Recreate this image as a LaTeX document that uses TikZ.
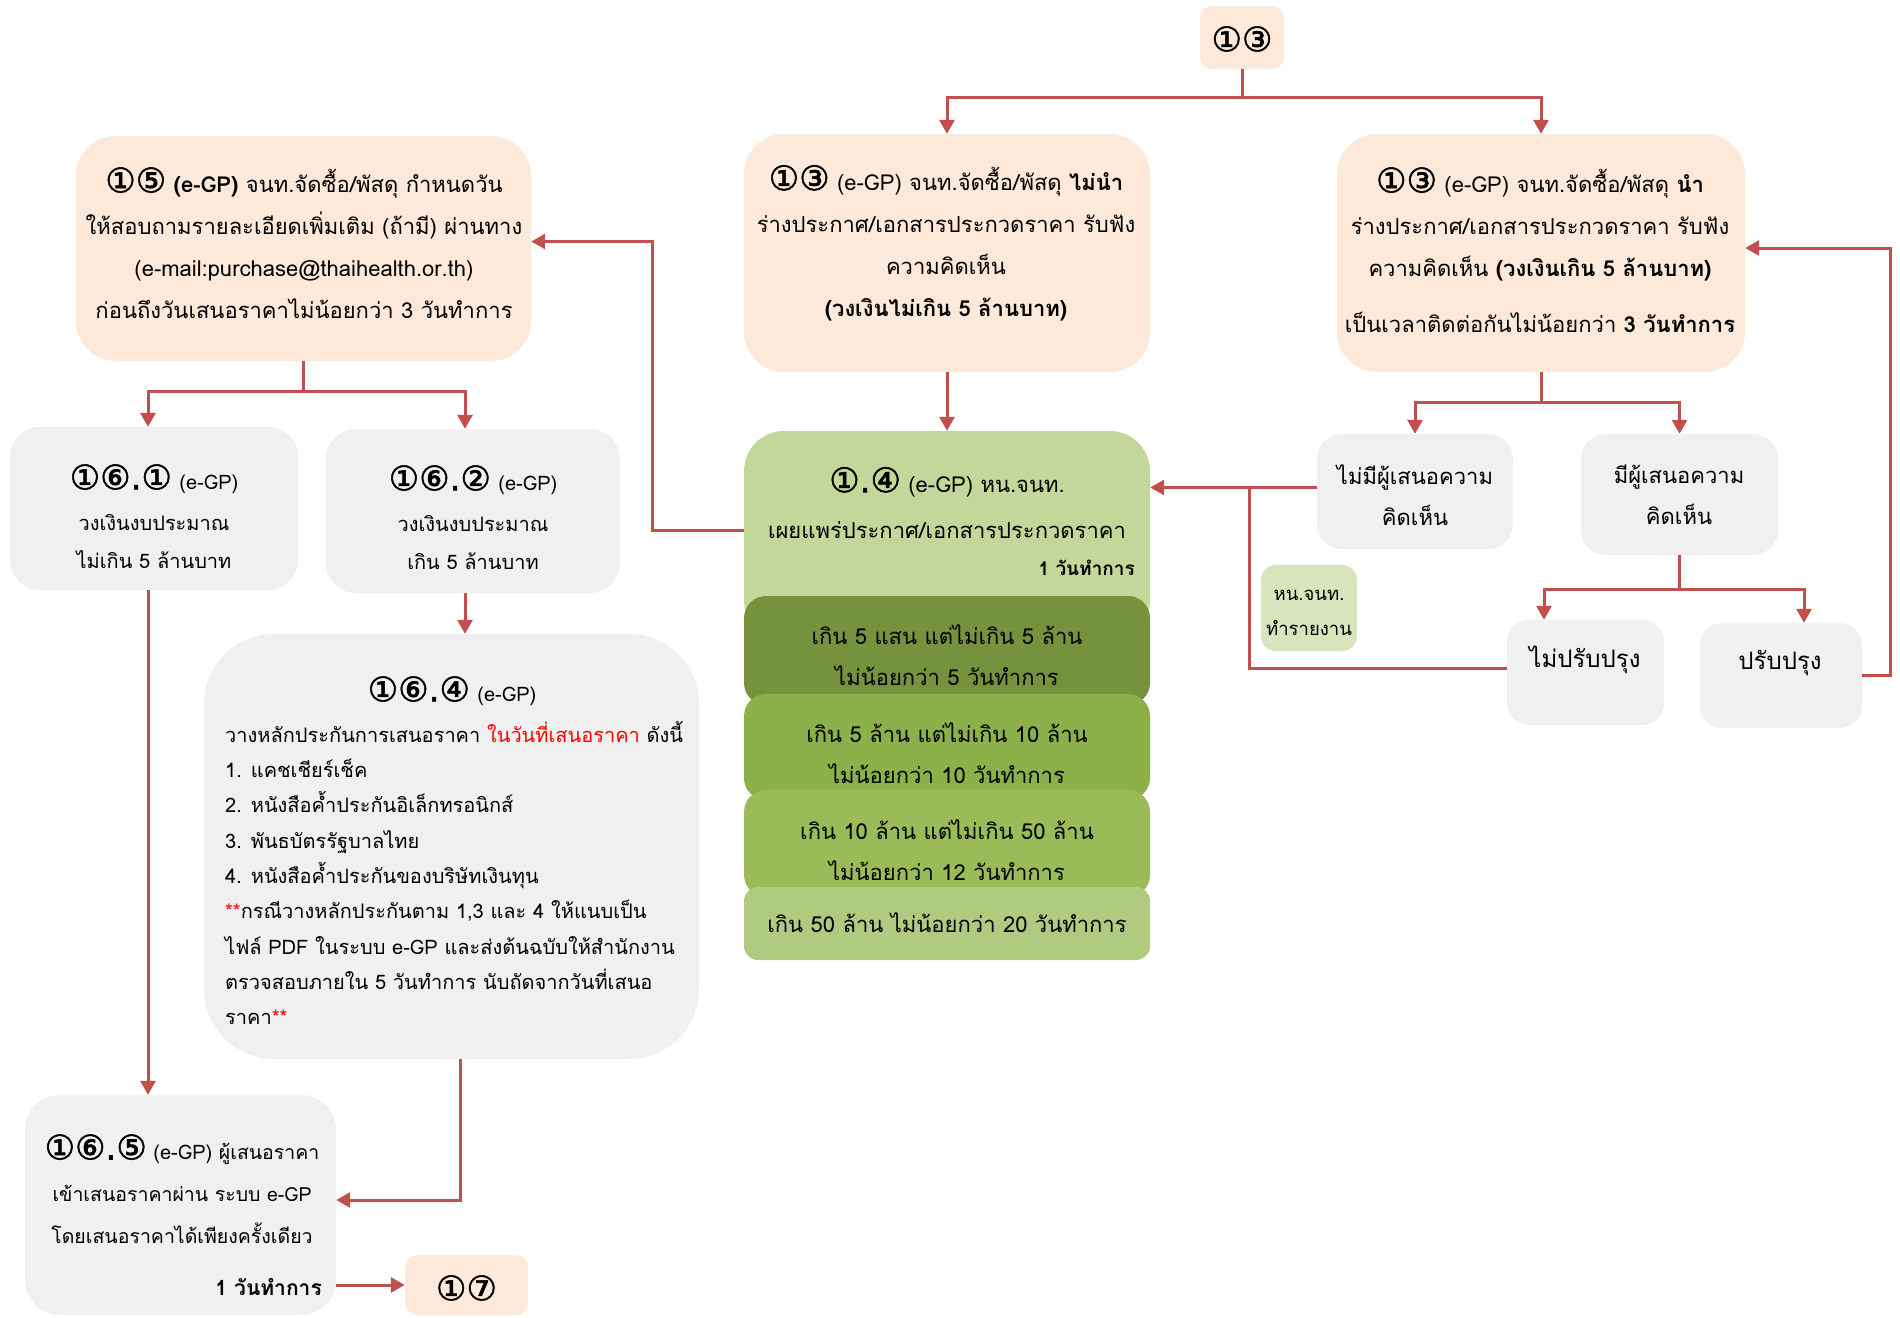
\documentclass[tikz,border=0pt]{standalone}
\usepackage{fontspec}
\setmainfont[Script=Thai]{Loma}
\newfontfamily\circfont[FakeBold=1.6]{DejaVu Sans}
\usetikzlibrary{arrows.meta}

\definecolor{flow}{HTML}{C0504D}
\definecolor{peach}{HTML}{FDE9D9}
\definecolor{greybox}{HTML}{F0F0F0}
\definecolor{leaf}{HTML}{C4D79B}
\definecolor{leafA}{HTML}{76923C}
\definecolor{leafB}{HTML}{8CB04A}
\definecolor{leafC}{HTML}{9BBB59}
\definecolor{leafD}{HTML}{B0CB7F}
\definecolor{notegreen}{HTML}{D8E4BC}
\definecolor{hilite}{HTML}{FF0000}

% circled step numbers
\newcommand\cn[1]{{\circfont\fontsize{34}{34}\selectfont #1}}
\newcommand\egp{{\fontsize{20}{20}\selectfont (e-GP)}}

\tikzset{
  panel/.style={rectangle, draw=none, inner sep=0pt, rounded corners=#1},
  panel/.default=40pt,
  txt/.style={inner sep=0pt, align=center, font=\fontsize{22}{42}\selectfont},
  link/.style={draw=flow, line width=3pt},
  arr/.style={link, -{Triangle[width=15pt,length=14pt]}},
}

\begin{document}
\begin{tikzpicture}[x=1pt,y=-1pt]
\useasboundingbox[fill=white] (0,0) rectangle (1900,1317);

% ---------- boxes ----------
\node[panel=12pt, fill=peach, minimum width=84pt, minimum height=63pt] (T) at (1242,37.5) {};
\node[panel, fill=peach, minimum width=455pt, minimum height=225pt] (A) at (303.5,248.5) {};
\node[panel, fill=peach, minimum width=406pt, minimum height=238pt] (B) at (947,253) {};
\node[panel, fill=peach, minimum width=408pt, minimum height=238pt] (C) at (1541,253) {};
\node[panel, fill=leaf, minimum width=406pt, minimum height=209pt] (D) at (947,535.5) {};
\node[panel=22pt, fill=leafA, minimum width=406pt, minimum height=109pt] (D1) at (947,650.5) {};
\node[panel=22pt, fill=leafB, minimum width=406pt, minimum height=106pt] (D2) at (947,747) {};
\node[panel=22pt, fill=leafC, minimum width=406pt, minimum height=107pt] (D3) at (947,843.5) {};
\node[panel=14pt, fill=leafD, minimum width=406pt, minimum height=73pt] (D4) at (947,923.5) {};
\node[panel=25pt, fill=greybox, minimum width=196pt, minimum height=115pt] (E) at (1415,491.5) {};
\node[panel=25pt, fill=greybox, minimum width=197pt, minimum height=121pt] (F) at (1679.5,494.5) {};
\node[panel=22pt, fill=greybox, minimum width=157pt, minimum height=105pt] (G) at (1585.5,672.5) {};
\node[panel=22pt, fill=greybox, minimum width=162pt, minimum height=105pt] (H) at (1781,675.5) {};
\node[panel=15pt, fill=notegreen, minimum width=96pt, minimum height=86pt] (S) at (1309,608) {};
\node[panel=30pt, fill=greybox, minimum width=288pt, minimum height=163pt] (I) at (154,508.5) {};
\node[panel=30pt, fill=greybox, minimum width=294pt, minimum height=164pt] (J) at (473,511) {};
\node[panel=70pt, fill=greybox, minimum width=495pt, minimum height=425pt] (K) at (451.5,846.5) {};
\node[panel=35pt, fill=greybox, minimum width=311pt, minimum height=220pt] (L) at (180.5,1205) {};
\node[panel=12pt, fill=peach, minimum width=123pt, minimum height=60pt] (M) at (466.5,1285) {};

% ---------- texts ----------
\node[txt] (T-text) at (1242,39) {\cn{①③}};

\node[txt] (A-text) at (304,243) {\cn{①⑤} \textbf{(e-GP)} จนท.จัดซื้อ/พัสดุ กำหนดวัน\\ให้สอบถามรายละเอียดเพิ่มเติม (ถ้ามี) ผ่านทาง\\(e-mail:purchase@thaihealth.or.th)\\ก่อนถึงวันเสนอราคาไม่น้อยกว่า 3 วันทำการ};

\node[txt] (B-text) at (946,243) {\cn{①③} (e-GP) จนท.จัดซื้อ/พัสดุ \textbf{ไม่นำ}\\ร่างประกาศ/เอกสารประกวดราคา รับฟัง\\ความคิดเห็น\\\textbf{(วงเงินไม่เกิน 5 ล้านบาท)}};

\node[txt] (C-text) at (1540,250) {\cn{①③} (e-GP) จนท.จัดซื้อ/พัสดุ \textbf{นำ}\\ร่างประกาศ/เอกสารประกวดราคา รับฟัง\\ความคิดเห็น \textbf{(วงเงินเกิน 5 ล้านบาท)}\\[14pt]เป็นเวลาติดต่อกันไม่น้อยกว่า \textbf{3 วันทำการ}};

\node[txt] (D-head) at (947,482) {\cn{①.④} (e-GP) หน.จนท.};
\node[txt] (D-body) at (947,530) {เผยแพร่ประกาศ/เอกสารประกวดราคา};
\node[txt, anchor=east, font=\fontsize{19}{19}\selectfont] (D-days) at (1135,568) {\textbf{1 วันทำการ}};
\node[txt, font=\fontsize{22}{41}\selectfont] (D1-text) at (947,655) {เกิน 5 แสน แต่ไม่เกิน 5 ล้าน\\ไม่น้อยกว่า 5 วันทำการ};
\node[txt, font=\fontsize{22}{41}\selectfont] (D2-text) at (947,753) {เกิน 5 ล้าน แต่ไม่เกิน 10 ล้าน\\ไม่น้อยกว่า 10 วันทำการ};
\node[txt, font=\fontsize{22}{41}\selectfont] (D3-text) at (947,850) {เกิน 10 ล้าน แต่ไม่เกิน 50 ล้าน\\ไม่น้อยกว่า 12 วันทำการ};
\node[txt] (D4-text) at (947,923) {เกิน 50 ล้าน ไม่น้อยกว่า 20 วันทำการ};

\node[txt, font=\fontsize{22}{41}\selectfont] (E-text) at (1415,495) {ไม่มีผู้เสนอความ\\คิดเห็น};
\node[txt, font=\fontsize{22}{41}\selectfont] (F-text) at (1679,495) {มีผู้เสนอความ\\คิดเห็น};
\node[txt, font=\fontsize{24}{24}\selectfont] (G-text) at (1585,660) {ไม่ปรับปรุง};
\node[txt, font=\fontsize{24}{24}\selectfont] (H-text) at (1780,663) {ปรับปรุง};
\node[txt, font=\fontsize{18.5}{35}\selectfont] (S-text) at (1309,613) {หน.จนท.\\ทำรายงาน};

\node[txt] (I-head) at (154,479) {\cn{①⑥.①} \egp};
\node[txt, font=\fontsize{20}{38}\selectfont] (I-body) at (154,542) {วงเงินงบประมาณ\\ไม่เกิน 5 ล้านบาท};
\node[txt] (J-head) at (473,480) {\cn{①⑥.②} \egp};
\node[txt, font=\fontsize{20}{38}\selectfont] (J-body) at (473,543) {วงเงินงบประมาณ\\เกิน 5 ล้านบาท};

\node[txt] (K-head) at (452,691) {\cn{①⑥.④} \egp};
\node[txt, align=left, anchor=west, font=\fontsize{20}{35.3}\selectfont] (K-body) at (225,873) {%
วางหลักประกันการเสนอราคา \textcolor{hilite}{ในวันที่เสนอราคา} ดังนี้\\
1. แคชเชียร์เช็ค\\
2. หนังสือค้ำประกันอิเล็กทรอนิกส์\\
3. พันธบัตรรัฐบาลไทย\\
4. หนังสือค้ำประกันของบริษัทเงินทุน\\
\textcolor{hilite}{**}กรณีวางหลักประกันตาม 1,3 และ 4 ให้แนบเป็น\\
ไฟล์ PDF ในระบบ e-GP และส่งต้นฉบับให้สำนักงาน\\
ตรวจสอบภายใน 5 วันทำการ นับถัดจากวันที่เสนอ\\
ราคา\textcolor{hilite}{**}};

\node[txt, font=\fontsize{19.5}{42}\selectfont] (L-text) at (182,1189) {\cn{①⑥.⑤} \egp{} ผู้เสนอราคา\\เข้าเสนอราคาผ่าน ระบบ e-GP\\โดยเสนอราคาได้เพียงครั้งเดียว};
\node[txt, anchor=east, font=\fontsize{21}{21}\selectfont] (L-days) at (322,1287) {\textbf{1 วันทำการ}};
\node[txt] (M-text) at (466.5,1288) {\cn{①⑦}};

% ---------- connectors ----------
\coordinate (tj) at (1242,97);
\draw[link] (T.south) -- (tj);
\draw[arr] (tj) -| (B.north);
\draw[arr] (tj) -| (C.north);
\draw[arr] (B.south) -- (D.north);

\coordinate (cj) at (1541,402);
\draw[link] (C.south) -- (cj);
\draw[arr] (cj) -| (E.north);
\draw[arr] (cj) -| (F.north);

\coordinate (fj) at (1679.5,589);
\draw[link] (F.south) -- (fj);
\draw[arr] (fj) -| ([xshift=-41.5pt]G.north);
\draw[arr] (fj) -| ([xshift=23pt]H.north);

\coordinate (ej) at ([yshift=4pt]E.west);
\draw[arr] (ej) -- (ej -| D.east);
\coordinate (rj) at (1249,487.5);
\draw[link] ([yshift=4pt]G.west) -| (rj);

\draw[arr] (H.east) -- ++(28,0) |- ([yshift=5pt]C.east);
\draw[arr] ([yshift=5pt]D.west) -- ++(-91,0) |- ([yshift=7pt]A.east);

\coordinate (aj) at (303.5,391);
\draw[link] (A.south) -- (aj);
\draw[arr] (aj) -| ([xshift=-6pt]I.north);
\draw[arr] (aj) -| ([xshift=-8pt]J.north);

\coordinate (jb) at ([xshift=-8pt]J.south);
\draw[arr] (jb) -- (jb |- K.north);
\coordinate (ib) at ([xshift=-6pt]I.south);
\draw[arr] (ib) -- (ib |- L.north);
\draw[arr] ([xshift=8.5pt]K.south) |- ([yshift=5pt]L.east);
\draw[arr] (M.west -| L.east) -- (M.west);
\end{tikzpicture}
\end{document}
